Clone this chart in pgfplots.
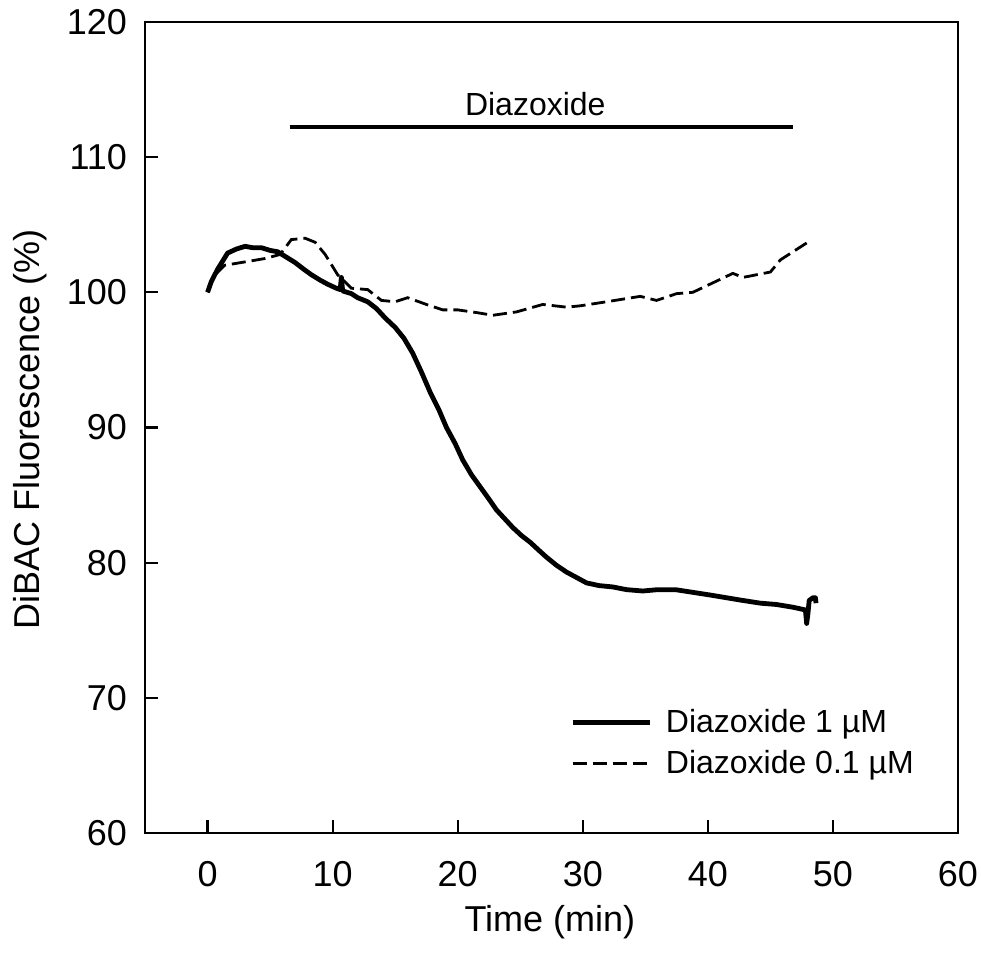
\documentclass[border=0pt]{standalone}
\usepackage{pgfplots}
\pgfplotsset{compat=1.18}
\usepackage{fontspec}
\setmainfont{Liberation Sans}
\begin{document}
\begin{tikzpicture}
\begin{axis}[
  scale only axis,
  width=406.5pt, height=405.5pt,
  xmin=-5, xmax=60, ymin=60, ymax=120,
  xtick={0,10,20,30,40,50,60},
  ytick={60,70,80,90,100,110,120},
  tick align=inside, tick pos=left,
  major tick length=6.5pt,
  axis line style={line width=1.1pt},
  every tick/.style={line width=1.1pt, black},
  /pgf/number format/assume math mode=true,
  tick label style={font=\fontsize{18}{20}\selectfont},
  xticklabel style={yshift=-10.5pt},
  yticklabel style={xshift=-5.5pt},
  xlabel={Time (min)},
  ylabel={DiBAC Fluorescence (\%)},
  label style={font=\fontsize{18}{20}\selectfont},
  xlabel style={at={(axis description cs:0.498,-0.110)}, anchor=center},
  ylabel style={at={(axis description cs:-0.1415,0.497)}, anchor=center},
  clip=false,
  legend style={draw=none, fill=none, at={(axis description cs:0.515,0.163)}, anchor=north west,
    font=\fontsize{16}{18}\selectfont, row sep=3.5pt, cells={anchor=west}},
  legend image code/.code={\draw[#1] (0pt,0pt) -- (38.5pt,0pt);},
  legend style={nodes={inner xsep=7pt}},
]
\addplot[black, line width=2.4pt, line join=round] coordinates {
(0,100) (0.3,100.8) (0.8,101.7) (1.6,102.9) (2.3,103.2) (3,103.4) (3.6,103.3)
(4.3,103.3) (5.0,103.1) (5.6,103.0) (6.3,102.6) (7,102.2) (7.7,101.7) (8.3,101.3)
(9.0,100.9) (9.6,100.6) (10.3,100.3) (10.6,100.2) (10.7,101.1) (10.8,100.1) (11.5,99.9)
(12,99.6) (12.8,99.3) (13.5,98.8) (14.2,98.1) (15,97.4) (15.7,96.6) (16.4,95.5)
(17.1,94.1) (17.8,92.6) (18.5,91.3) (19.1,90.0) (19.8,88.8) (20.4,87.6) (21.1,86.5)
(21.8,85.6) (22.5,84.7) (23.1,83.9) (23.8,83.2) (24.4,82.6) (25.1,82.0) (25.8,81.5)
(26.5,80.9) (27.1,80.4) (27.9,79.8) (28.7,79.3) (29.5,78.9) (30.3,78.5) (31.3,78.3)
(32.4,78.2) (33.5,78.0) (34.8,77.9) (36,78.0) (37.4,78.0) (38.8,77.8) (40.2,77.6)
(41.5,77.4) (42.8,77.2) (44.2,77.0) (45.5,76.9) (46.8,76.7) (47.8,76.5) (47.9,75.5)
(48.0,76.2) (48.1,77.2) (48.4,77.4) (48.6,77.4) (48.65,77.0)
};
\addlegendentry{Diazoxide 1 µM}
\addplot[black, line width=1.4pt, dash pattern=on 7pt off 3pt] coordinates {
(0,100) (0.5,101.2) (1.36,102.0) (3,102.25) (4.6,102.5) (5.8,102.8) (6.7,103.9)
(7.8,104.0) (8.6,103.7) (9.4,102.8) (10.4,101.3) (11.5,100.3) (12.8,100.2)
(13.9,99.4) (15.0,99.3) (16.0,99.6) (17.5,99.1) (18.8,98.7) (20,98.7) (21.5,98.5)
(22.8,98.3) (24.7,98.55) (26.8,99.1) (28.7,98.9) (29.8,99.0) (31.9,99.3) (34.6,99.7)
(35.9,99.4) (37.5,99.9) (38.8,100.0) (40.4,100.7) (42,101.4) (42.8,101.1) (45,101.5)
(45.8,102.4) (47.9,103.65)
};
\addlegendentry{Diazoxide 0.1 µM}
\draw[line width=2pt] (axis cs:6.56,112.2) -- (axis cs:46.8,112.2);
\node[font=\fontsize{16}{18}\selectfont] at (axis cs:26.2,113.9) {Diazoxide};
\coordinate (bbSW) at (axis description cs:-0.1784,-0.148);
\coordinate (bbNE) at (axis description cs:1.0283,1.0271);
\end{axis}
\pgfresetboundingbox
\path[use as bounding box] (bbSW) rectangle (bbNE);
\end{tikzpicture}
\end{document}
